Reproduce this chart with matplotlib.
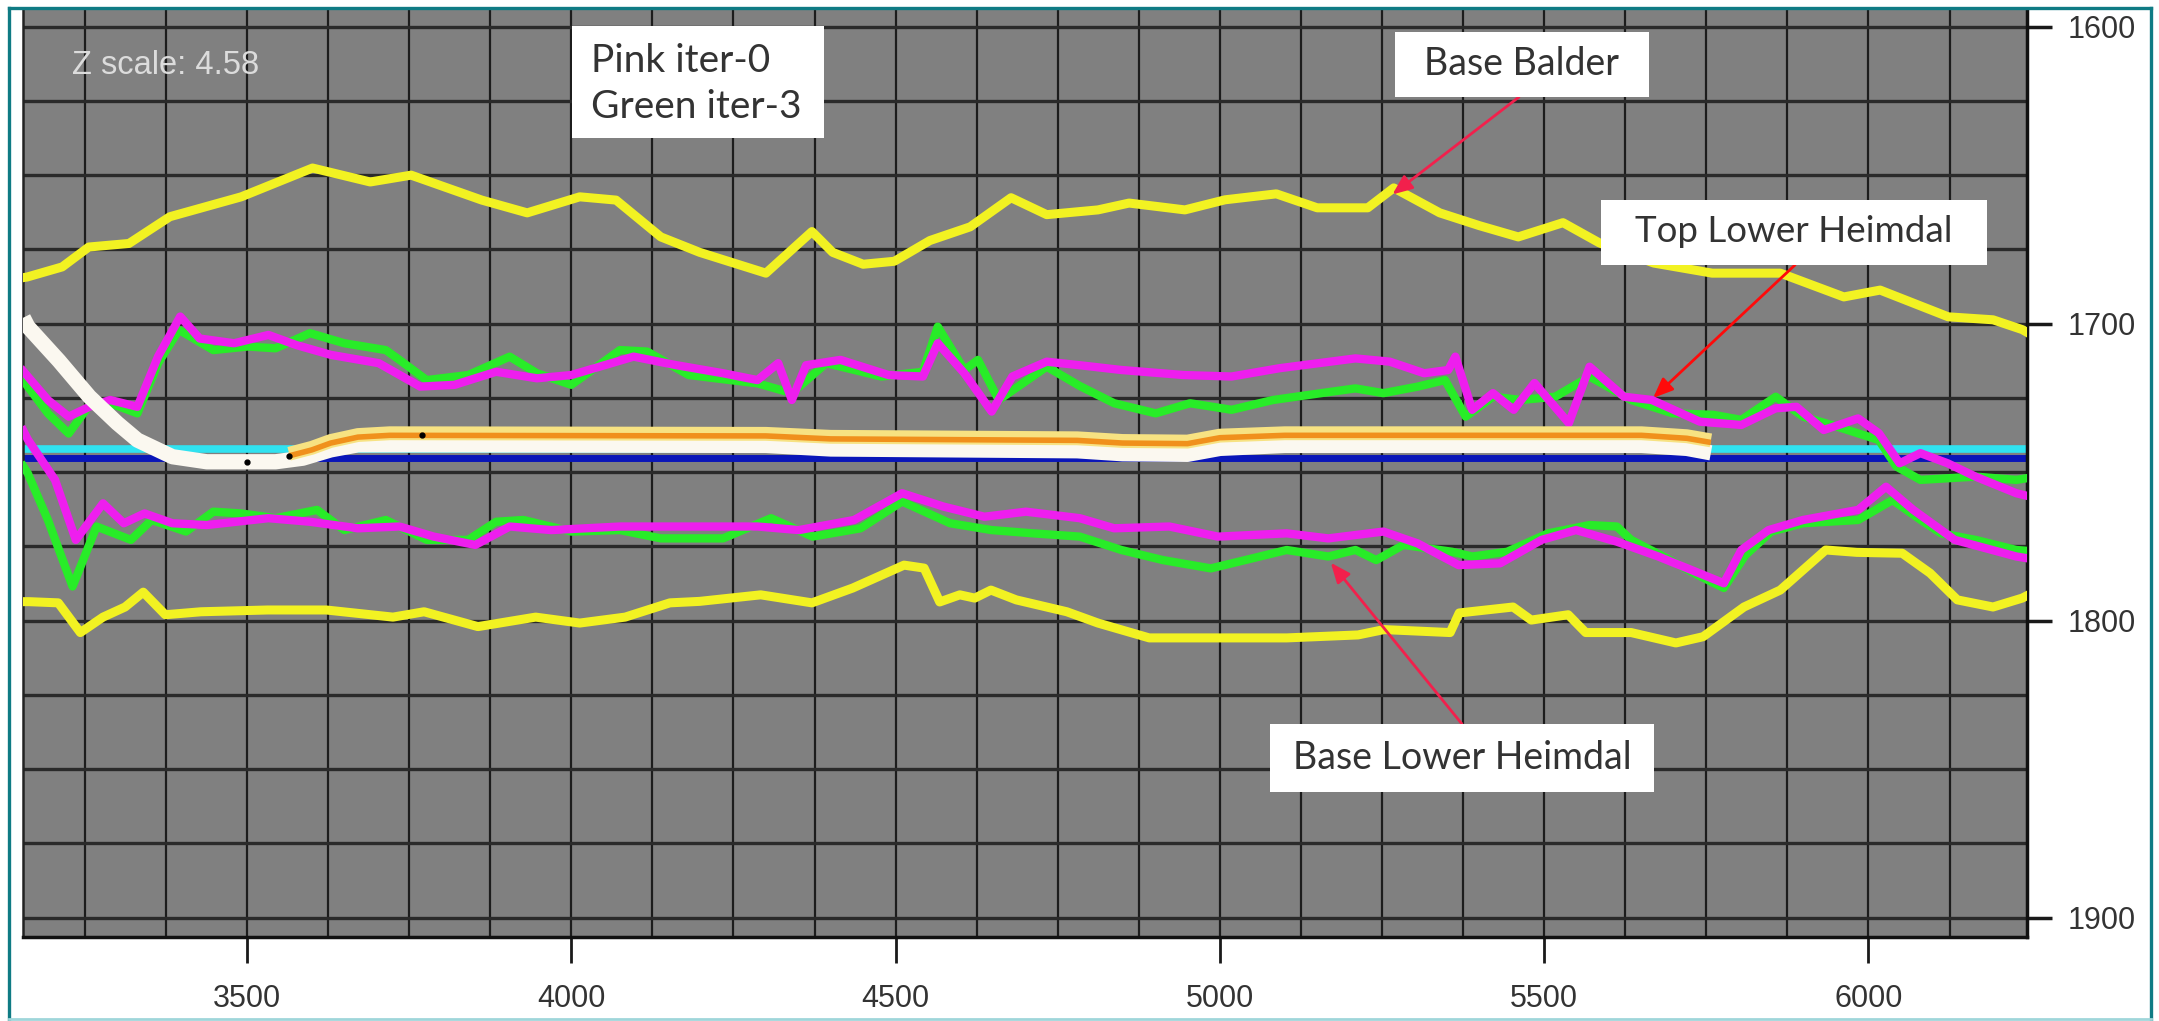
import matplotlib
matplotlib.use("Agg")
import matplotlib.pyplot as plt
from matplotlib.patches import Rectangle
from matplotlib.lines import Line2D
from matplotlib.ticker import MultipleLocator

# ---------------- data ----------------
base_balder_x = [3155, 3161, 3215, 3256, 3318, 3381, 3491, 3601, 3690, 3753, 3862, 3932, 4013, 4069,
                 4138, 4198, 4300, 4371, 4403, 4450, 4498, 4553, 4615, 4678, 4733, 4812, 4860, 4946,
                 5008, 5087, 5150, 5228, 5268, 5339, 5400, 5460, 5529, 5585, 5669, 5759, 5864, 5962,
                 6018, 6123, 6192, 6237, 6245]
base_balder_z = [1684.5, 1684.3, 1680.9, 1674.2, 1673, 1664, 1657.3, 1647.6, 1652.3, 1650, 1658.4,
                 1662.7, 1657.3, 1658.4, 1670.8, 1676, 1683, 1669, 1676, 1680, 1679, 1672, 1667.4,
                 1657.6, 1663.3, 1661.7, 1659.4, 1661.7, 1658.3, 1656.3, 1661, 1661, 1654.3, 1662.7,
                 1667, 1670.8, 1666, 1672.8, 1679.6, 1683, 1683, 1691, 1688.7, 1697.7, 1698.7, 1702, 1703]

lower_yellow_x = [3155, 3164, 3209, 3243, 3278, 3312, 3340, 3374, 3429, 3532, 3622, 3725, 3773, 3856,
                  3945, 4013, 4083, 4152, 4198, 4292, 4371, 4434, 4513, 4544, 4568, 4599, 4622, 4647,
                  4686, 4764, 4812, 4891, 4985, 5103, 5213, 5253, 5355, 5369, 5452, 5480, 5537, 5564,
                  5634, 5703, 5745, 5808, 5864, 5934, 5982, 6052, 6095, 6137, 6192, 6237, 6245]
lower_yellow_z = [1793.6, 1793.6, 1794, 1804, 1798.8, 1795.4, 1790.4, 1798, 1797, 1796.4, 1796.4,
                  1798.8, 1797, 1802, 1798.8, 1800.8, 1798.8, 1794, 1793.5, 1791.3, 1794, 1789,
                  1781.3, 1782.3, 1793.7, 1791.3, 1792.4, 1789.7, 1793, 1797, 1800.8, 1805.8, 1805.8,
                  1805.8, 1804.8, 1803, 1804, 1797.4, 1795.4, 1799.8, 1798, 1804, 1804, 1807.5, 1805.4,
                  1795.4, 1789.7, 1776.2, 1777, 1777.3, 1784, 1793, 1795.4, 1792.4, 1791.5]

top_lh_iter0_x = [3155, 3162, 3193, 3225, 3257, 3289, 3331, 3363, 3397, 3427, 3480, 3533, 3576, 3629,
                  3703, 3767, 3820, 3884, 3947, 4000, 4096, 4160, 4234, 4287, 4319, 4340, 4362, 4415,
                  4489, 4542, 4565, 4606, 4648, 4680, 4733, 4784, 4848, 4944, 5018, 5092, 5209, 5262,
                  5315, 5352, 5363, 5389, 5421, 5453, 5485, 5538, 5570, 5623, 5666, 5740, 5804, 5857,
                  5889, 5931, 5984, 6016, 6048, 6080, 6122, 6165, 6228, 6245]
top_lh_iter0_z = [1716, 1717.8, 1725.7, 1731.3, 1728, 1725.7, 1728, 1711, 1697.6, 1705, 1706.6, 1703.8,
                  1707.2, 1710.5, 1713.3, 1721.2, 1720.6, 1716.2, 1718.4, 1717.3, 1711.1, 1713.9,
                  1716.7, 1719, 1713.3, 1725.7, 1714, 1712.2, 1717.3, 1717.8, 1706.6, 1716.7, 1729.6,
                  1717.8, 1712.8, 1714, 1715.6, 1717.3, 1717.8, 1715, 1711.7, 1712.8, 1716.7, 1715.6,
                  1711.1, 1729, 1723.4, 1729, 1720, 1733.5, 1714.5, 1724.6, 1725.7, 1733, 1734.1,
                  1728.5, 1728, 1735.8, 1731.9, 1736.9, 1747, 1743.6, 1747, 1751.5, 1757.1, 1758]

top_lh_iter3_x = [3155, 3162, 3193, 3225, 3257, 3289, 3331, 3363, 3395, 3448, 3501, 3544, 3597, 3650,
                  3714, 3735, 3777, 3841, 3905, 3947, 4000, 4075, 4117, 4181, 4245, 4287, 4340, 4393,
                  4478, 4542, 4565, 4606, 4627, 4659, 4733, 4784, 4837, 4901, 4954, 5018, 5082, 5156,
                  5209, 5252, 5305, 5347, 5379, 5421, 5464, 5517, 5570, 5634, 5698, 5761, 5804, 5857,
                  5899, 5952, 6016, 6043, 6080, 6165, 6228, 6245]
top_lh_iter3_z = [1719, 1721.2, 1730.2, 1737, 1727.4, 1726.8, 1730.2, 1713.3, 1702.1, 1708.9, 1707.7,
                  1708.3, 1703.2, 1706.6, 1708.9, 1712.2, 1719, 1717.3, 1711.1, 1716.7, 1720.6,
                  1708.9, 1709.4, 1717.3, 1719, 1720.1, 1723.4, 1713.3, 1717.8, 1716.2, 1701, 1715.6,
                  1712.2, 1725.7, 1714.5, 1721, 1726.8, 1730.2, 1726.8, 1729, 1725.7, 1723.4, 1721.8,
                  1723.4, 1721.2, 1719, 1731.3, 1724.6, 1725.7, 1724.6, 1717.8, 1725.7, 1730.2,
                  1730.7, 1732.4, 1724.6, 1731.3, 1734.7, 1739.2, 1748.1, 1752.6, 1751.5, 1752.6, 1752]

base_lh_iter0_x = [3155, 3162, 3204, 3236, 3278, 3310, 3342, 3385, 3438, 3533, 3597, 3671, 3735, 3788,
                   3852, 3905, 3969, 4075, 4181, 4287, 4351, 4436, 4510, 4574, 4637, 4701, 4784, 4837,
                   4922, 4997, 5103, 5167, 5252, 5305, 5368, 5432, 5496, 5549, 5612, 5676, 5740, 5777,
                   5804, 5846, 5899, 5984, 6027, 6069, 6133, 6228, 6245]
base_lh_iter0_z = [1736, 1739, 1752.6, 1772.8, 1760.5, 1767.2, 1763.9, 1767.2, 1767.8, 1765.5, 1766.7,
                   1768.9, 1768.3, 1771.7, 1774.5, 1768.3, 1769.5, 1768.3, 1768.3, 1768.3, 1769.5,
                   1766.1, 1757.1, 1761.6, 1765, 1763.3, 1765.5, 1768.9, 1768.3, 1771.7, 1770.6,
                   1772.3, 1770, 1774, 1781.3, 1780.7, 1772.8, 1769.5, 1773.4, 1778.4, 1784.1, 1787.4,
                   1776.2, 1769.5, 1766.1, 1762.7, 1754.9, 1762.7, 1772.8, 1778.4, 1779]

base_lh_iter3_x = [3155, 3162, 3193, 3231, 3268, 3321, 3353, 3406, 3448, 3491, 3544, 3608, 3650, 3714,
                   3777, 3841, 3884, 3926, 4000, 4075, 4138, 4234, 4308, 4372, 4446, 4510, 4584, 4648,
                   4712, 4784, 4848, 4912, 4986, 5039, 5103, 5167, 5209, 5241, 5283, 5358, 5389, 5443,
                   5506, 5570, 5612, 5634, 5680, 5740, 5777, 5810, 5850, 5899, 5984, 6037, 6080, 6112,
                   6165, 6228, 6245]
base_lh_iter3_z = [1748, 1750.4, 1766.1, 1788.5, 1768.3, 1772.8, 1766.1, 1770, 1763.3, 1763.9, 1765.5,
                   1762.7, 1769.5, 1766.1, 1772.8, 1772.8, 1766.7, 1766.1, 1770, 1769.5, 1772.3,
                   1772.3, 1765.5, 1771.7, 1768.9, 1759.9, 1767.2, 1769.5, 1770.6, 1771.7, 1776.2,
                   1779.6, 1782.4, 1779.6, 1776.2, 1778.4, 1776.2, 1779.6, 1774.5, 1776.8, 1778.4,
                   1776.8, 1770.6, 1767.8, 1768.3, 1772.8, 1778, 1785, 1789, 1778, 1770, 1767.2,
                   1766.1, 1759.4, 1766, 1770.6, 1772.8, 1776.2, 1776.5]

# well trajectory and log along it
well_x = [3155, 3162, 3210, 3257, 3300, 3331, 3385, 3438, 3544, 3586, 3629, 3671, 3750, 4300, 4400,
          4780, 4850, 4950, 5000, 5100, 5650, 5720, 5757]
well_z = [1698, 1701, 1712.5, 1724.6, 1733.5, 1739.2, 1744.8, 1746.5, 1746.5, 1745.3, 1742.5, 1740.8,
          1740.8, 1741, 1742.2, 1742.8, 1743.8, 1744, 1742, 1741, 1741, 1742, 1743.5]
log_x = [3565, 3600, 3629, 3671, 3720, 4300, 4400, 4780, 4850, 4950, 5000, 5100, 5650, 5720, 5757]
log_z = [1744.5, 1742.5, 1740.2, 1738.2, 1737.6, 1737.8, 1738.8, 1739.3, 1740.2, 1740.4, 1738.4,
         1737.6, 1737.6, 1738.6, 1740]
marker_x = [3500, 3565, 3770]
marker_z = [1746.5, 1744.5, 1737.6]

# reference lines
cyan_x_left = [3155, 4320]
cyan_x_right = [5757, 6245]
cyan_z = [1742.3, 1742.3]
blue_x = [3155, 6245]
blue_z = [1745.2, 1745.2]

x_range = (3154.6, 6244.4)
z_range = (1906.5, 1594.4)
x_ticks = [3500, 4000, 4500, 5000, 5500, 6000]
x_labels = ["3500", "4000", "4500", "5000", "5500", "6000"]
z_ticks = [1600, 1700, 1800, 1900]
z_labels = ["1600", "1700", "1800", "1900"]

# ---------------- figure ----------------
W, H = 2159, 1021
fig = plt.figure(figsize=(W / 100, H / 100), dpi=100)
fig.patch.set_facecolor("white")

L, R, T, B = 23, 2027, 10, 937
ax = fig.add_axes([L / W, (H - B) / H, (R - L) / W, (B - T) / H])
ax.set_facecolor("#808080")
ax.set_xlim(*x_range)
ax.set_ylim(*z_range)

ax.set_xticks(x_ticks, x_labels, family="Liberation Sans", fontsize=22, color="#333333")
ax.xaxis.set_minor_locator(MultipleLocator(125))
ax.yaxis.tick_right()
ax.set_yticks(z_ticks, z_labels, family="Liberation Sans", fontsize=22, color="#333333")
ax.yaxis.set_minor_locator(MultipleLocator(25))
ax.grid(which="both", axis="x", color="#1c1c1c", lw=1.6, zorder=1)
ax.grid(which="both", axis="y", color="#2a2a2a", lw=2.4, zorder=1)
ax.set_axisbelow(True)

ax.xaxis.set_tick_params(which="major", direction="out", length=19, width=2, color="#1a1a1a",
                         pad=15, bottom=True, top=False)
ax.yaxis.set_tick_params(which="major", direction="out", length=18, width=2.5, color="#1a1a1a",
                         pad=11, left=False, right=True)
ax.xaxis.set_tick_params(which="minor", length=0)
ax.yaxis.set_tick_params(which="minor", length=0)

for s in ["bottom", "right"]:
    ax.spines[s].set_color("#111111")
    ax.spines[s].set_linewidth(2.5)
ax.spines["left"].set_color("#222222")
ax.spines["left"].set_linewidth(1.8)
ax.spines["top"].set_visible(False)

# reference lines
ax.plot(blue_x, blue_z, color="#0a16b8", lw=5, zorder=2, solid_capstyle="butt")
ax.plot(cyan_x_left, cyan_z, color="#30e2f0", lw=5.5, zorder=2, solid_capstyle="butt")
ax.plot(cyan_x_right, cyan_z, color="#30e2f0", lw=5.5, zorder=2, solid_capstyle="butt")

# horizons
ax.plot(base_balder_x, base_balder_z, color="#f2f222", lw=6.5, zorder=3, solid_joinstyle="round")
ax.plot(lower_yellow_x, lower_yellow_z, color="#f2f222", lw=6.5, zorder=3, solid_joinstyle="round")
ax.plot(top_lh_iter3_x, top_lh_iter3_z, color="#28ec28", lw=6, zorder=3, solid_joinstyle="round")
ax.plot(base_lh_iter3_x, base_lh_iter3_z, color="#28ec28", lw=6, zorder=3, solid_joinstyle="round")
ax.plot(top_lh_iter0_x, top_lh_iter0_z, color="#ee1eee", lw=6, zorder=4, solid_joinstyle="round")
ax.plot(base_lh_iter0_x, base_lh_iter0_z, color="#ee1eee", lw=6, zorder=4, solid_joinstyle="round")

# well
ax.plot(well_x, well_z, color="#fbf8f0", lw=11, zorder=5, solid_capstyle="butt",
        solid_joinstyle="round")
ax.plot(log_x, [z - 0.7 for z in log_z], color="#f7e282", lw=10, zorder=6,
        solid_capstyle="butt", solid_joinstyle="round")
ax.plot(log_x, log_z, color="#f0901c", lw=4, zorder=7, solid_capstyle="butt",
        solid_joinstyle="round")
ax.plot(marker_x, marker_z, "o", color="black", ms=3.5, zorder=8)

# ---------------- annotations ----------------
def fig_px(x, y):
    return x / W, 1 - y / H

def box(x0, y0, x1, y1):
    fig.add_artist(Rectangle(fig_px(x0, y1), (x1 - x0) / W, (y1 - y0) / H,
                             transform=fig.transFigure, facecolor="white", edgecolor="none",
                             zorder=20))

lab_font = dict(family="Lato", color="#333333", zorder=21)

fig.text(*fig_px(72, 65), "Z scale: 4.58", family="Liberation Sans", fontsize=23.5,
         color="#dcdcdc", ha="left", va="center")

box(572, 26, 824, 138)
fig.text(*fig_px(591, 61), "Pink iter-0", ha="left", va="center", fontsize=28, **lab_font)
fig.text(*fig_px(591, 107), "Green iter-3", ha="left", va="center", fontsize=28, **lab_font)

box(1395, 32, 1649, 97)
fig.text(*fig_px(1522, 64), "Base Balder", ha="center", va="center", fontsize=27, **lab_font)

box(1601, 200, 1987, 265)
fig.text(*fig_px(1794, 232), "Top Lower Heimdal", ha="center", va="center", fontsize=26.5,
         **lab_font)

box(1270, 724, 1654, 792)
fig.text(*fig_px(1462, 758), "Base Lower Heimdal", ha="center", va="center", fontsize=27,
         **lab_font)

arrow_kw = dict(arrowstyle="-|>,head_length=1.2,head_width=0.5", lw=2.0, shrinkA=0, shrinkB=0)
ax.annotate("", xy=(5266, 1656.5), xytext=fig_px(1519, 97), textcoords="figure fraction",
            arrowprops=dict(color="#f2204c", **arrow_kw), zorder=22, annotation_clip=False)
ax.annotate("", xy=(5668, 1725), xytext=fig_px(1795, 265), textcoords="figure fraction",
            arrowprops=dict(color="#ff0a0a", **arrow_kw), zorder=22, annotation_clip=False)
ax.annotate("", xy=(5171, 1780.5), xytext=fig_px(1462, 724), textcoords="figure fraction",
            arrowprops=dict(color="#f2204c", **arrow_kw), zorder=22, annotation_clip=False)

# frame around the figure
teal = "#0f7b84"
for (xa, ya, xb, yb) in [(9, 8, 9, 1019), (9, 8, 2151, 8), (2151, 8, 2151, 1019)]:
    fig.add_artist(Line2D([xa / W, xb / W], [1 - ya / H, 1 - yb / H], color=teal, lw=2.4,
                          transform=fig.transFigure, zorder=30))
fig.add_artist(Line2D([9 / W, 2151 / W], [1 - 1019 / H, 1 - 1019 / H], color="#9fd6da", lw=2,
                      transform=fig.transFigure, zorder=30))

fig.savefig("out.png", dpi=100, facecolor="white")
